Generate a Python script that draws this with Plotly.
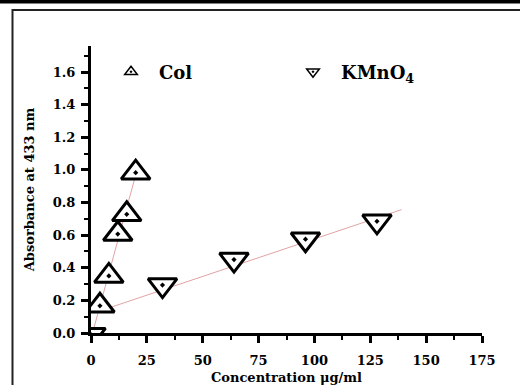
import plotly.graph_objects as go

# ---- data ----
col_conc = [4, 8, 12, 16, 20]
col_abs = [0.167, 0.35, 0.607, 0.728, 0.983]
kmno4_conc = [0, 32, 64, 96, 128]
kmno4_abs = [-0.01, 0.294, 0.45, 0.575, 0.685]
# fitted lines (intercept, slope) and x-span
col_fit = [-0.035, 0.0502]
col_fit_span = [0.7, 20]
kmno4_fit = [0.117, 0.0046]
kmno4_fit_span = [1.8, 139]

x_ticks = [0, 25, 50, 75, 100, 125, 150, 175]
y_ticks = [0.0, 0.2, 0.4, 0.6, 0.8, 1.0, 1.2, 1.4, 1.6]

FONT = "DejaVu Serif"
FIT_COLOR = "#e2a3a3"

fig = go.Figure()

def fit_y(coef, xs):
    return [coef[0] + coef[1] * x for x in xs]

fig.add_trace(go.Scatter(x=col_fit_span, y=fit_y(col_fit, col_fit_span), mode="lines",
                         line=dict(color=FIT_COLOR, width=1), showlegend=False))
fig.add_trace(go.Scatter(x=kmno4_fit_span, y=fit_y(kmno4_fit, kmno4_fit_span), mode="lines",
                         line=dict(color=FIT_COLOR, width=1), showlegend=False))

fig.add_trace(go.Scatter(x=col_conc, y=col_abs, mode="markers", showlegend=False,
                         marker=dict(symbol="triangle-up-dot", size=25, color="white",
                                     line=dict(color="black", width=3))))
fig.add_trace(go.Scatter(x=kmno4_conc, y=kmno4_abs, mode="markers", showlegend=False,
                         marker=dict(symbol="triangle-down-dot", size=25, color="white",
                                     line=dict(color="black", width=3))))

# legend entries (smaller symbols, as in the reference)
fig.add_trace(go.Scatter(x=[None], y=[None], mode="markers", name="Col", legend="legend",
                         marker=dict(symbol="triangle-up-dot", size=11, color="white",
                                     line=dict(color="black", width=1.5))))
fig.add_trace(go.Scatter(x=[None], y=[None], mode="markers", name="KMnO<sub>4</sub>", legend="legend2",
                         marker=dict(symbol="triangle-down-dot", size=11, color="white",
                                     line=dict(color="black", width=1.5))))

L, R, T, B = 91, 38, 46, 52
W, H = 520, 385
pw, ph = W - L - R, H - T - B

def px(x):
    return (x - L) / pw

def py(y):
    return (H - B - y) / ph

shapes = [
    dict(type="rect", xref="paper", yref="paper", x0=px(-5), x1=px(530), y0=py(-5), y1=py(3.5),
         fillcolor="black", line=dict(width=0), layer="above"),
    dict(type="line", xref="paper", yref="paper", x0=px(12), x1=px(530), y0=py(10), y1=py(10),
         line=dict(color="#222", width=2)),
    dict(type="line", xref="paper", yref="paper", x0=px(12.5), x1=px(12.5), y0=py(9), y1=py(400),
         line=dict(color="#222", width=2)),
]

axis_common = dict(
    showline=True, linecolor="black", linewidth=3, mirror=False,
    showgrid=False, zeroline=False, automargin=False,
    ticks="outside", ticklen=7, tickwidth=3, tickcolor="black",
    tickfont=dict(family=FONT, size=13, color="black", weight="bold"),
)

legend_common = dict(orientation="v", yanchor="middle", xanchor="left", itemwidth=46,
                     bgcolor="rgba(0,0,0,0)",
                     font=dict(family=FONT, size=18, color="black", weight="bold"))

fig.update_layout(
    width=W, height=H,
    margin=dict(l=L, r=R, t=T, b=B),
    paper_bgcolor="white", plot_bgcolor="white",
    shapes=shapes,
    showlegend=True,
    legend=dict(x=px(103), y=py(72), **legend_common),
    legend2=dict(x=px(285), y=py(72), **legend_common),
    xaxis=dict(range=[0, 175], tickvals=x_ticks, ticktext=[str(v) for v in x_ticks],
               minor=dict(dtick=12.5, tick0=0, ticks="outside", ticklen=4, tickwidth=2, tickcolor="black"),
               ticklabelstandoff=6,
               title=dict(text="Concentration μg/ml", standoff=14,
                          font=dict(family=FONT, size=13, color="black", weight="bold")),
               **axis_common),
    yaxis=dict(range=[0, 1.76], tickvals=y_ticks, ticktext=[f"{v:.1f}" for v in y_ticks],
               minor=dict(dtick=0.1, tick0=0, ticks="outside", ticklen=4, tickwidth=2, tickcolor="black"),
               ticklabelstandoff=3,
               title=dict(text="Absorbance at 433 nm", standoff=16,
                          font=dict(family=FONT, size=13, color="black", weight="bold")),
               **axis_common),
)

fig.write_html("out.html")
